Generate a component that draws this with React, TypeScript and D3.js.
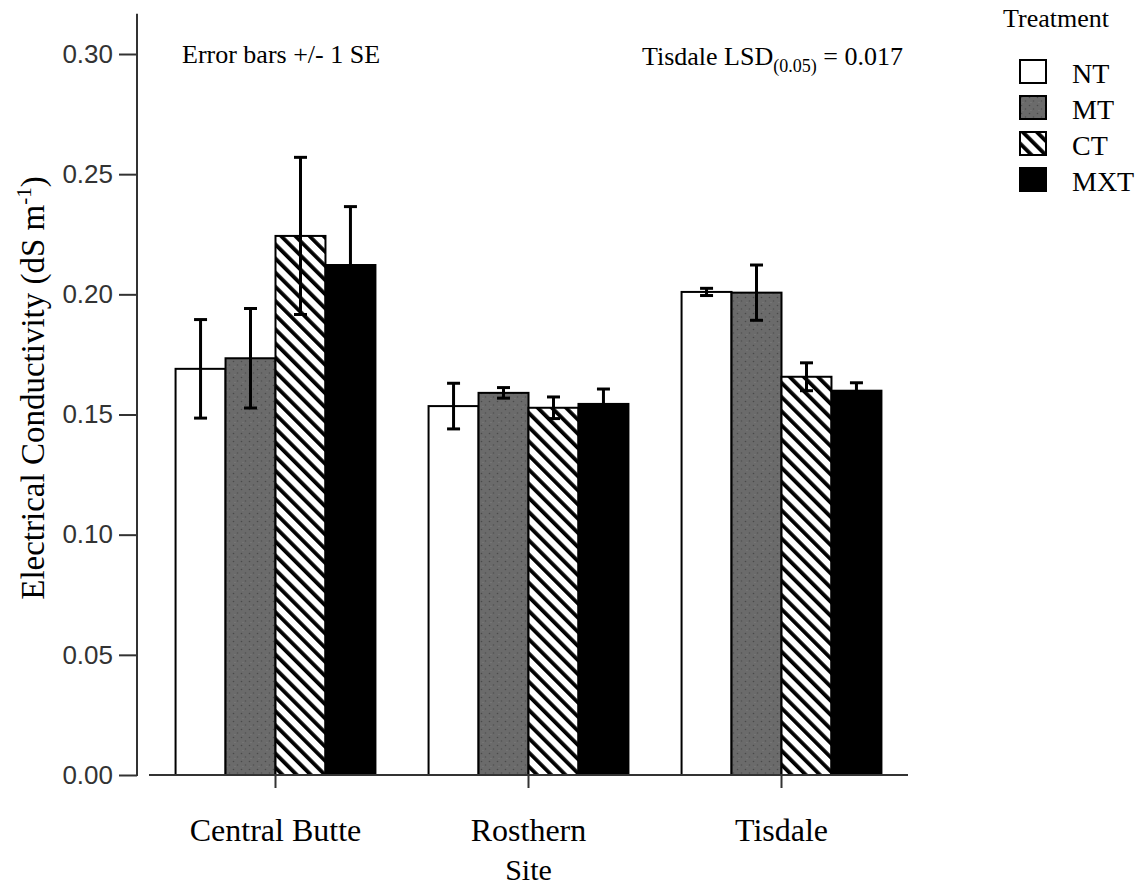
import React, { useEffect, useRef } from 'react'
import * as d3 from 'd3'

const sites = ['Central Butte', 'Rosthern', 'Tisdale']
const treatments = ['NT', 'MT', 'CT', 'MXT']

// mean EC per site (dS m-1), and standard error
const ntValues = [0.169, 0.1535, 0.201]
const ntSE = [0.0205, 0.0095, 0.0015]
const mtValues = [0.1734, 0.159, 0.2007]
const mtSE = [0.0207, 0.0022, 0.0115]
const ctValues = [0.2243, 0.1528, 0.1657]
const ctSE = [0.0327, 0.0045, 0.0058]
const mxtValues = [0.2122, 0.1544, 0.1599]
const mxtSE = [0.0243, 0.0062, 0.0033]

const yTicks = [0, 0.05, 0.1, 0.15, 0.2, 0.25, 0.3]

const fills: Record<string, string> = {
  NT: '#ffffff',
  MT: 'url(#stipple)',
  CT: 'url(#hatch)',
  MXT: '#000000',
}

const App = () => {
  const ref = useRef<SVGSVGElement>(null)

  useEffect(() => {
    const svg = d3.select(ref.current)
    svg.selectAll('*').remove()

    const serif = '"Liberation Serif", "Times New Roman", serif'
    const sans = '"Liberation Sans", Arial, sans-serif'

    const valuesBy: Record<string, number[]> = { NT: ntValues, MT: mtValues, CT: ctValues, MXT: mxtValues }
    const seBy: Record<string, number[]> = { NT: ntSE, MT: mtSE, CT: ctSE, MXT: mxtSE }

    const data = sites.flatMap((site, i) =>
      treatments.map(t => ({ site, t, value: valuesBy[t][i], se: seBy[t][i] }))
    )

    // patterns
    const defs = svg.append('defs')
    const stip = defs.append('pattern')
      .attr('id', 'stipple')
      .attr('patternUnits', 'userSpaceOnUse')
      .attr('width', 8).attr('height', 8)
    stip.append('rect').attr('width', 8).attr('height', 8).attr('fill', '#6b6b6b')
    stip.append('circle').attr('cx', 1.5).attr('cy', 1.5).attr('r', 0.8).attr('fill', '#4a4a4a')
    stip.append('circle').attr('cx', 5.5).attr('cy', 5).attr('r', 0.8).attr('fill', '#505050')
    stip.append('circle').attr('cx', 3).attr('cy', 6.5).attr('r', 0.6).attr('fill', '#808080')

    const hatch = defs.append('pattern')
      .attr('id', 'hatch')
      .attr('patternUnits', 'userSpaceOnUse')
      .attr('width', 10).attr('height', 10)
      .attr('patternTransform', 'rotate(-45)')
    hatch.append('rect').attr('width', 10).attr('height', 10).attr('fill', '#fff')
    hatch.append('rect').attr('x', 0).attr('width', 3.8).attr('height', 10).attr('fill', '#000')

    // scales
    const x = d3.scaleBand<string>()
      .domain(sites)
      .range([149, 908])
      .paddingInner(0.21)
      .paddingOuter(0.105)

    const xInner = d3.scaleBand<string>()
      .domain(treatments)
      .range([0, x.bandwidth()])

    const y = d3.scaleLinear()
      .domain([0, 0.3])
      .range([775, 54])

    const axisX = 137

    // y axis
    const yAxis = svg.append('g')
      .attr('transform', `translate(${axisX},0)`)
      .call(d3.axisLeft(y).tickValues(yTicks).tickFormat(d3.format('.2f')).tickSize(18).tickPadding(6))
    yAxis.select('.domain').remove()
    yAxis.selectAll('.tick line').attr('stroke', '#333').attr('stroke-width', 2)
    yAxis.selectAll('.tick text')
      .attr('font-family', sans)
      .attr('font-size', 26)
      .attr('fill', '#333')
    svg.append('line')
      .attr('x1', axisX).attr('x2', axisX)
      .attr('y1', y(0.3167)).attr('y2', y(0) + 1)
      .attr('stroke', '#333').attr('stroke-width', 2)

    // bars
    svg.append('g')
      .selectAll('rect')
      .data(data)
      .join('rect')
      .attr('x', d => (x(d.site) as number) + (xInner(d.t) as number))
      .attr('y', d => y(d.value))
      .attr('width', xInner.bandwidth())
      .attr('height', d => y(0) - y(d.value))
      .attr('fill', d => fills[d.t])
      .attr('stroke', '#000')
      .attr('stroke-width', 2)

    // x axis
    svg.append('line')
      .attr('x1', 149).attr('x2', 908)
      .attr('y1', y(0)).attr('y2', y(0))
      .attr('stroke', '#333').attr('stroke-width', 2)
    svg.append('g')
      .selectAll('line')
      .data(sites)
      .join('line')
      .attr('x1', d => (x(d) as number) + x.bandwidth() / 2)
      .attr('x2', d => (x(d) as number) + x.bandwidth() / 2)
      .attr('y1', y(0)).attr('y2', y(0) + 13)
      .attr('stroke', '#333').attr('stroke-width', 2)
    svg.append('g')
      .selectAll('text')
      .data(sites)
      .join('text')
      .attr('x', d => (x(d) as number) + x.bandwidth() / 2)
      .attr('y', 841)
      .attr('text-anchor', 'middle')
      .attr('font-family', serif)
      .attr('font-size', 32)
      .text(d => d)

    // error bars
    const eb = svg.append('g')
      .selectAll('g')
      .data(data)
      .join('g')
      .attr('transform', d => `translate(${(x(d.site) as number) + (xInner(d.t) as number) + xInner.bandwidth() / 2},0)`)
    eb.append('line')
      .attr('y1', d => y(d.value - d.se)).attr('y2', d => y(d.value + d.se))
      .attr('stroke', '#000').attr('stroke-width', 3)
    eb.append('line')
      .attr('x1', -6.5).attr('x2', 6.5)
      .attr('y1', d => y(d.value + d.se)).attr('y2', d => y(d.value + d.se))
      .attr('stroke', '#000').attr('stroke-width', 3)
    eb.append('line')
      .attr('x1', -6.5).attr('x2', 6.5)
      .attr('y1', d => y(d.value - d.se)).attr('y2', d => y(d.value - d.se))
      .attr('stroke', '#000').attr('stroke-width', 3)

    // axis titles
    svg.append('text')
      .attr('transform', `translate(44,388) rotate(-90)`)
      .attr('text-anchor', 'middle')
      .attr('font-family', serif)
      .attr('font-size', 33)
      .call(t => {
        t.append('tspan').text('Electrical Conductivity (dS m')
        t.append('tspan').attr('font-size', 21).attr('dy', -13).text('-1')
        t.append('tspan').attr('dy', 13).text(')')
      })
    svg.append('text')
      .attr('x', (x('Rosthern') as number) + x.bandwidth() / 2)
      .attr('y', 880)
      .attr('text-anchor', 'middle')
      .attr('font-family', serif)
      .attr('font-size', 30)
      .text('Site')

    // annotations
    svg.append('text')
      .attr('x', 182).attr('y', 63)
      .attr('font-family', serif)
      .attr('font-size', 26)
      .text('Error bars +/- 1 SE')
    svg.append('text')
      .attr('x', 642).attr('y', 65)
      .attr('font-family', serif)
      .attr('font-size', 26)
      .call(t => {
        t.append('tspan').text('Tisdale LSD')
        t.append('tspan').attr('font-size', 18).attr('dy', 7).text('(0.05)')
        t.append('tspan').attr('dy', -7).text(' = 0.017')
      })

    // legend
    svg.append('text')
      .attr('x', 1003).attr('y', 27)
      .attr('font-family', serif)
      .attr('font-size', 26)
      .text('Treatment')
    const lg = svg.append('g')
      .selectAll('g')
      .data(treatments)
      .join('g')
      .attr('transform', (d, i) => `translate(1020,${60 + i * 36})`)
    lg.append('rect')
      .attr('width', 26).attr('height', 23)
      .attr('fill', d => fills[d])
      .attr('stroke', '#000').attr('stroke-width', 2)
    lg.append('text')
      .attr('x', 52).attr('y', 23)
      .attr('font-family', serif)
      .attr('font-size', 28)
      .text(d => d)
  }, [])

  return (
    <svg ref={ref} width={1141} height={886}
      style={{ position: 'absolute', left: 0, top: 0, background: '#fff' }} />
  )
}

export default App
